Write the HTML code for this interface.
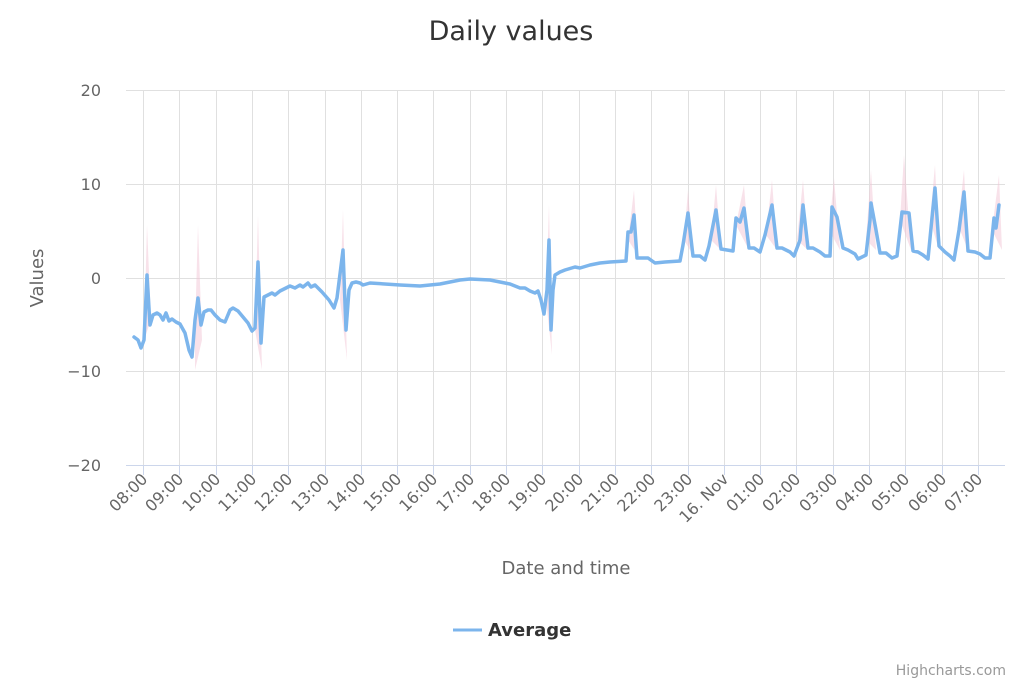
<!DOCTYPE html>
<html><head><meta charset="utf-8"><style>body{margin:0;background:#fff}svg{display:block}text{font-family:"DejaVu Sans","Liberation Sans",sans-serif}</style></head><body>
<svg width="1024" height="683" xmlns="http://www.w3.org/2000/svg">
<rect width="1024" height="683" fill="#fff"/>
<text x="511" y="40" text-anchor="middle" font-size="27" fill="#333">Daily values</text>
<g stroke="#e0e0e0" stroke-width="1">
<line x1="126" y1="90.5" x2="1005" y2="90.5"/><line x1="126" y1="184.5" x2="1005" y2="184.5"/><line x1="126" y1="278.5" x2="1005" y2="278.5"/><line x1="126" y1="371.5" x2="1005" y2="371.5"/>
</g>
<g id="vg" stroke="#e0e0e0"></g>
<line x1="126" y1="465.5" x2="1005" y2="465.5" stroke="#ccd6eb"/>
<g font-size="16" fill="#666" text-anchor="end">
<text x="101" y="96">20</text><text x="101" y="190">10</text><text x="101" y="284">0</text><text x="101" y="377">−10</text><text x="101" y="471">−20</text>
</g>
<text transform="translate(43,278) rotate(-90)" text-anchor="middle" font-size="18" fill="#666">Values</text>
<text x="566" y="574" text-anchor="middle" font-size="18" fill="#666">Date and time</text>
<g id="xl" font-size="16" fill="#666" text-anchor="end"></g>
<g fill="#f3c6d6" opacity="0.5">
<polygon points="144,340 147,225 151,320"/><polygon points="195,330 198,225 202,340 195,370"/><polygon points="255,330 258,215 262,370"/><polygon points="340,300 343,210 347,360"/><polygon points="546,300 549,205 552,355"/>
<polygon points="628,240 634,190 638,255"/><polygon points="684,240 688,190 693,255"/><polygon points="711,240 716,185 721,250"/><polygon points="736,225 744,185 749,250"/><polygon points="766,235 772,180 777,250"/><polygon points="797,240 803,180 808,250"/><polygon points="829,230 834,178 840,250"/><polygon points="866,240 871,170 876,250"/><polygon points="900,220 904,155 911,250"/><polygon points="930,220 935,165 939,250"/><polygon points="958,225 964,170 968,250"/><polygon points="992,230 999,175 1002,250"/>
</g>
<polyline fill="none" stroke="#7cb5ec" stroke-width="3.5" stroke-linejoin="round" stroke-linecap="round" points="134,337 138,340 141,348 144,340 147,275 150,325 153,315 157,313 160,315 163,320 166,313 169,321 172,319 176,322 180,324 185,333 189,350 192,357 195,320 198,298 201,325 204,312 208,310 211,310 215,315 220,320 225,322 230,310 233,308 238,311 243,317 248,323 252,331 255,328 258,262 261,343 264,297 268,295 272,293 275,295 280,291 286,288 290,286 295,288 300,285 303,287 308,283 311,287 315,285 318,288 322,292 329,300 334,308 337,298 343,250 346,330 349,290 352,283 356,282 360,283 363,285 370,283 400,285 420,286 440,284 460,280 470,279 490,280 510,284 520,288 525,288 530,291 535,293 538,291 541,300 544,314 547,290 549,240 551,330 553,290 555,275 560,272 565,270 575,267 580,268 590,265 600,263 610,262 626,261 628,232 631,232 634,215 637,258 642,258 648,258 655,263 665,262 680,261 683,245 688,213 693,256 700,256 705,260 709,246 716,210 721,249 727,250 733,251 736,218 740,222 744,208 749,248 754,248 760,252 765,235 772,205 777,248 782,248 790,252 794,256 800,240 803,205 808,248 813,248 820,252 825,256 830,256 832,207 837,217 843,248 848,250 855,254 858,259 866,255 870,220 871,203 876,230 880,253 886,253 892,258 897,256 902,212 909,213 913,251 918,252 923,255 928,259 931,228 935,188 939,246 945,252 950,256 954,260 959,230 964,192 968,251 975,252 980,254 985,258 990,258 994,218 996,228 999,205"/>
<line x1="453" y1="630" x2="482" y2="630" stroke="#7cb5ec" stroke-width="3"/>
<text x="488" y="636" font-size="18" font-weight="bold" fill="#333">Average</text>
<text x="1006" y="675" text-anchor="end" font-size="14" fill="#999">Highcharts.com</text>
<script>
var L=["08:00","09:00","10:00","11:00","12:00","13:00","14:00","15:00","16:00","17:00","18:00","19:00","20:00","21:00","22:00","23:00","16. Nov","01:00","02:00","03:00","04:00","05:00","06:00","07:00"];
var vg=document.getElementById("vg"),xl=document.getElementById("xl"),ns="http://www.w3.org/2000/svg";
L.forEach(function(t,i){var x=Math.round(143+i*36.3)+0.5;
var l=document.createElementNS(ns,"line");l.setAttribute("x1",x);l.setAttribute("x2",x);l.setAttribute("y1",90);l.setAttribute("y2",465);vg.appendChild(l);
var k=document.createElementNS(ns,"line");k.setAttribute("x1",x);k.setAttribute("x2",x);k.setAttribute("y1",465);k.setAttribute("y2",475);k.setAttribute("stroke","#ccd6eb");vg.parentNode.appendChild(k);
var tx=document.createElementNS(ns,"text");tx.setAttribute("transform","translate("+(x+5)+",480) rotate(-45)");tx.textContent=t;xl.appendChild(tx);});
</script>
</svg>
</body></html>
